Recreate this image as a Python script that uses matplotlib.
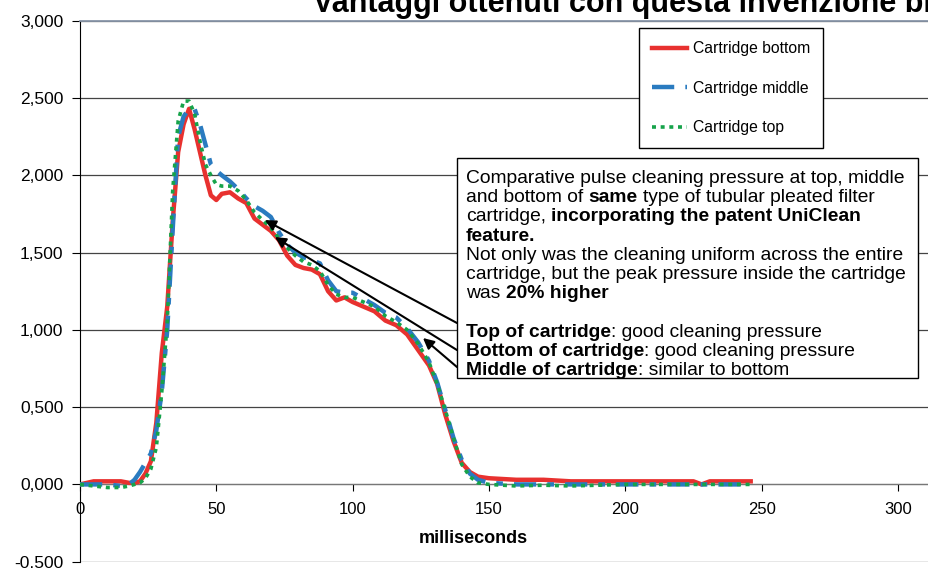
import numpy as np
import matplotlib.pyplot as plt
from matplotlib.patches import Rectangle

plt.rcParams['font.family'] = ['Liberation Sans', 'DejaVu Sans']

# pressure (bar) vs time (ms)
ms = [0, 5, 10, 15, 18, 20, 22, 24, 26, 28, 30, 32, 34, 36, 38, 40, 42, 44, 46, 48,
      50, 52, 55, 58, 61, 64, 67, 70, 73, 76, 79, 82, 85, 88, 91, 94, 97, 100, 104, 108,
      112, 116, 120, 124, 128, 131, 134, 137, 140, 143, 146, 150, 160, 170, 180, 190,
      200, 210, 220, 225, 228, 231, 235, 240, 246]
bottom = [0, 0.02, 0.02, 0.02, 0.01, 0.01, 0.02, 0.07, 0.15, 0.4, 0.85, 1.15, 1.7, 2.15, 2.33,
          2.43, 2.3, 2.15, 2.0, 1.87, 1.84, 1.88, 1.89, 1.85, 1.82, 1.72, 1.68, 1.64, 1.58, 1.48,
          1.42, 1.40, 1.39, 1.36, 1.25, 1.19, 1.21, 1.18, 1.15, 1.12, 1.06, 1.03, 0.97, 0.87, 0.77,
          0.65, 0.45, 0.28, 0.14, 0.08, 0.05, 0.04, 0.03, 0.03, 0.02, 0.02, 0.02, 0.02, 0.02, 0.02,
          0.0, 0.02, 0.02, 0.02, 0.02]
middle = [0, 0.0, 0.0, -0.01, 0.0, 0.03, 0.08, 0.14, 0.2, 0.35, 0.6, 1.0, 1.65, 2.25, 2.38,
          2.43, 2.43, 2.33, 2.2, 2.07, 2.03, 2.0, 1.96, 1.91, 1.85, 1.8, 1.77, 1.73, 1.63, 1.55,
          1.5, 1.47, 1.45, 1.43, 1.32, 1.25, 1.24, 1.24, 1.2, 1.16, 1.11, 1.08, 1.01, 0.92, 0.8,
          0.66, 0.48, 0.3, 0.16, 0.07, 0.03, 0.01, 0.0, 0.0, 0.0, 0.0, 0.0, 0.0, 0.0, 0.0,
          0.0, 0.0, 0.0, 0.0, 0.0]
top = [0, -0.01, -0.02, -0.02, -0.01, 0.0, 0.01, 0.04, 0.1, 0.24, 0.6, 1.05, 1.9, 2.35, 2.48,
       2.48, 2.4, 2.22, 2.07, 2.0, 1.94, 1.93, 1.93, 1.9, 1.84, 1.76, 1.71, 1.66, 1.59, 1.53,
       1.48, 1.44, 1.42, 1.38, 1.29, 1.23, 1.21, 1.21, 1.18, 1.15, 1.09, 1.05, 1.0, 0.91, 0.79,
       0.65, 0.48, 0.3, 0.13, 0.05, 0.01, 0.0, -0.01, -0.005, -0.01, -0.005, 0.0, 0.0, 0.0, 0.0,
       0.0, 0.0, 0.0, 0.0, 0.0]

y_ticks = [-0.5, 0, 0.5, 1, 1.5, 2, 2.5, 3]
y_labels = ['-0.500', '0,000', '0,500', '1,000', '1,500', '2,000', '2,500', '3,000']
x_ticks = [0, 50, 100, 150, 200, 250, 300]

# arrow (tail, head) positions in data units
arrow_tails = [(138.3, 1.044), (138.3, 0.869), (138.3, 0.759)]
arrow_heads = [(67.8, 1.71), (71.5, 1.60), (125.8, 0.947)]

box_lines = [
    [("Comparative pulse cleaning pressure at top, middle", False)],
    [("and bottom of", False), (" same", True), (" type of tubular pleated filter", False)],
    [("cartridge,", False), (" incorporating the patent UniClean", True)],
    [("feature.", True)],
    [("Not only was the cleaning uniform across the entire", False)],
    [("cartridge, but the peak pressure inside the cartridge", False)],
    [("was", False), (" 20% higher", True)],
    [],
    [("Top of cartridge", True), (": good cleaning pressure", False)],
    [("Bottom of cartridge", True), (": good cleaning pressure", False)],
    [("Middle of cartridge", True), (": similar to bottom", False)],
]

W, H = 929, 569
fig = plt.figure(figsize=(W / 100, H / 100), dpi=100)
ax = fig.add_axes([80 / W, 7.3 / H, 849 / W, 541 / H])

ax.plot(ms, bottom, color='#e8312f', lw=3.2, label='Cartridge bottom', zorder=3)
ax.plot(ms, middle, color='#2a7bc0', lw=3.2, dashes=(5, 2.5, 1.5, 2.5),
        label='Cartridge middle', zorder=4)
ax.plot(ms, top, color='#16a34a', lw=2.6, dashes=(1.1, 1.3), label='Cartridge top', zorder=5)

ax.set_xlim(0, 311.4)
ax.set_ylim(-0.5, 3.0)
ax.set_yticks(y_ticks)
ax.set_yticklabels(y_labels)
ax.set_xticks(x_ticks)
ax.yaxis.grid(True, color='#444444', lw=0.9)
ax.set_axisbelow(True)

ax.spines['right'].set_visible(False)
ax.spines['top'].set_color('#8895a8')
ax.spines['top'].set_linewidth(1.3)
ax.spines['bottom'].set_position(('data', 0))
ax.spines['bottom'].set_color('#777777')
ax.spines['left'].set_color('black')
ax.tick_params(axis='y', length=6, pad=6, labelsize=12.5)
ax.tick_params(axis='x', length=5, pad=8, labelsize=12)

ax.set_xlabel('milliseconds', fontsize=13, fontweight='bold')
ax.xaxis.set_label_coords(0.463, 0.058)

leg = ax.legend(loc='upper left', bbox_to_anchor=(0.658, 0.9865), fontsize=11.3,
                handlelength=2.2, handletextpad=0.4, labelspacing=1.55, borderpad=0.85,
                borderaxespad=0, fancybox=False, framealpha=1, edgecolor='black')
leg.get_frame().set_linewidth(1.0)
leg.set_zorder(10)

for (tx, ty), (hx, hy) in zip(arrow_tails, arrow_heads):
    ax.annotate('', xy=(hx, hy), xytext=(tx, ty),
                arrowprops=dict(arrowstyle='-|>', color='black', lw=1.5,
                                mutation_scale=16, shrinkA=0, shrinkB=0), zorder=8)

# text box with mixed weights
box = Rectangle((457 / W, 1 - 378 / H), (918 - 457) / W, (378 - 158) / H,
                transform=fig.transFigure, facecolor='white', edgecolor='black',
                lw=1.0, clip_on=False, zorder=9)
ax.add_patch(box)

fs = 13.85
for i, pieces in enumerate(box_lines):
    yb = 1 - (183.0 + i * 19.2) / H
    prev = None
    for txt, bold in pieces:
        w = 'bold' if bold else 'normal'
        if prev is None:
            prev = ax.annotate(txt, xy=(466 / W, yb), xycoords='figure fraction',
                               fontsize=fs, fontweight=w, va='baseline', ha='left',
                               annotation_clip=False, zorder=11)
        else:
            gap = 0.278 * fs if txt.startswith(' ') else 0
            prev = ax.annotate(txt.lstrip(), xy=(1, yb), xycoords=(prev, 'figure fraction'),
                               xytext=(gap, 0), textcoords='offset points',
                               fontsize=fs, fontweight=w, va='baseline', ha='left',
                               annotation_clip=False, zorder=11)

fig.text(313 / W, 1 - 12 / H, 'Vantaggi ottenuti con questa invenzione brevettata',
         fontsize=22, fontweight='bold', va='baseline', ha='left')

fig.savefig('out.png', dpi=100)
